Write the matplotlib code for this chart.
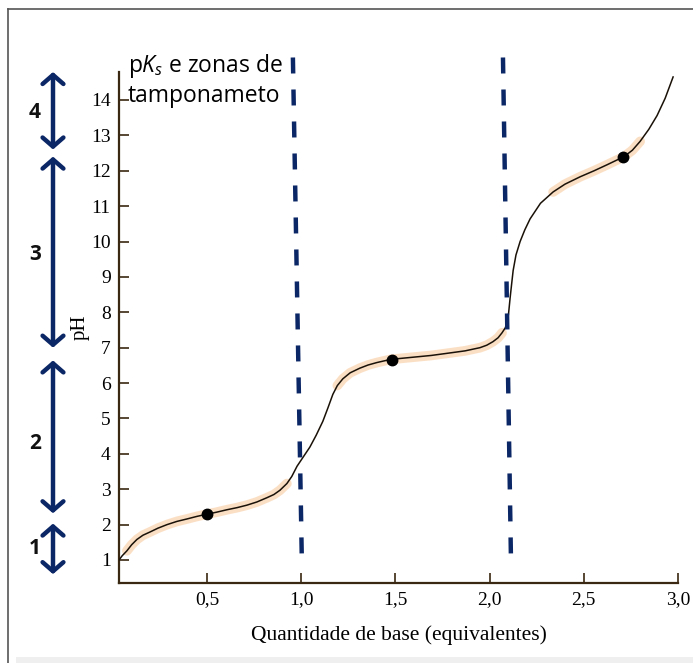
import matplotlib
matplotlib.use("Agg")
import matplotlib.pyplot as plt
import matplotlib.transforms as mtransforms
import numpy as np

# titration curve (x = equivalents of base, y = pH)
base_eq = [0.033, 0.05, 0.075, 0.10, 0.128, 0.16, 0.197, 0.24, 0.288, 0.34, 0.394,
           0.445, 0.495, 0.55, 0.606, 0.66, 0.712, 0.765, 0.818, 0.855, 0.887, 0.924,
           0.95, 0.978, 1.012, 1.046, 1.08, 1.115, 1.142, 1.168, 1.192, 1.221, 1.26,
           1.311, 1.355, 1.402, 1.476, 1.593, 1.69, 1.774, 1.87, 1.949, 1.985, 2.018,
           2.045, 2.066, 2.082, 2.093, 2.101, 2.109, 2.117, 2.125, 2.14, 2.162, 2.187,
           2.215, 2.27, 2.337, 2.40, 2.481, 2.555, 2.624, 2.714, 2.758, 2.799, 2.845,
           2.889, 2.932, 2.974]
ph = [1.0, 1.12, 1.26, 1.43, 1.58, 1.7, 1.79, 1.9, 2.0, 2.09, 2.16,
      2.23, 2.29, 2.35, 2.42, 2.48, 2.55, 2.64, 2.76, 2.85, 2.97, 3.16,
      3.36, 3.65, 3.92, 4.19, 4.53, 4.92, 5.3, 5.68, 5.93, 6.12, 6.29,
      6.42, 6.51, 6.58, 6.67, 6.73, 6.78, 6.84, 6.91, 7.0, 7.07, 7.17,
      7.28, 7.42, 7.55, 7.69, 7.98, 8.41, 8.8, 9.18, 9.62, 10.0, 10.33,
      10.64, 11.08, 11.4, 11.62, 11.83, 12.0, 12.17, 12.4, 12.58, 12.83, 13.17,
      13.56, 14.05, 14.65]

# pKa points (half-equivalence)
pk_x = [0.5, 1.48, 2.71]
pk_y = [2.3, 6.66, 12.4]

# buffer zones highlighted along the curve
buffer_ranges = [(0.06, 0.93), (1.17, 2.07), (2.33, 2.80)]

# equivalence lines (slightly slanted in the picture)
eq_x_top = [0.956, 2.071]
eq_x_bottom = [1.004, 2.114]
eq_y_top = 15.2
eq_y_bottom = 0.82

# zones on the left
zone_labels = ["1", "2", "3", "4"]
zone_bottom = [0.6, 2.32, 7.0, 12.6]
zone_top = [2.03, 6.64, 12.4, 14.79]
zone_label_y = [1.32, 4.3, 9.64, 13.65]

x_ticks = [0.5, 1.0, 1.5, 2.0, 2.5, 3.0]
x_ticklabels = ["0,5", "1,0", "1,5", "2,0", "2,5", "3,0"]
y_ticks = list(range(1, 15))

navy = "#0c2766"
axis_col = "#3a2812"

fig = plt.figure(figsize=(6.93, 6.63), dpi=100)
ax = fig.add_axes([119 / 693, 80 / 663, (678 - 119) / 693, (583 - 72) / 663])

# frame of the picture
fig.add_artist(plt.Line2D([8 / 693, 1.0], [1 - 9 / 663, 1 - 9 / 663], color="#555555", lw=1.2))
fig.add_artist(plt.Line2D([8 / 693, 8 / 693], [0, 1 - 9 / 663], color="#555555", lw=1.2))
fig.add_artist(plt.Rectangle((16 / 693, 0), 1, 6 / 663, color="#efefef", lw=0))

x = np.array(base_eq)
y = np.array(ph)

# orange glow in the buffer zones
for a, b in buffer_ranges:
    m = (x >= a) & (x <= b)
    ax.plot(x[m], y[m], color="#f3a55a", lw=7, alpha=0.35, solid_capstyle="round", zorder=2)

ax.plot(x, y, color="#1a1208", lw=1.1, zorder=3)
ax.plot(pk_x, pk_y, "o", color="black", ms=7.5, zorder=4)

for xt, xb in zip(eq_x_top, eq_x_bottom):
    ax.plot([xt, xb], [eq_y_top, eq_y_bottom], color=navy, lw=3.2,
            dashes=(3.6, 3.6), clip_on=False, zorder=5)

ax.set_xlim(0.033, 3.0)
ax.set_ylim(0.35, 14.79)
ax.set_xticks(x_ticks)
ax.set_xticklabels(x_ticklabels)
ax.set_yticks(y_ticks)

for s in ["top", "right"]:
    ax.spines[s].set_visible(False)
for s in ["left", "bottom"]:
    ax.spines[s].set_color(axis_col)
    ax.spines[s].set_linewidth(1.6)

ax.tick_params(direction="in", length=7, width=1.2, color=axis_col,
               labelsize=14, pad=6)
for lab in ax.get_xticklabels() + ax.get_yticklabels():
    lab.set_family("Liberation Serif")

ax.set_xlabel("Quantidade de base (equivalentes)", family="Liberation Serif",
              fontsize=15.5, labelpad=12)
ax.set_ylabel("pH", family="Liberation Serif", fontsize=15, labelpad=1)

plt.rcParams["mathtext.fontset"] = "custom"
plt.rcParams["mathtext.it"] = "Open Sans:italic"
plt.rcParams["mathtext.rm"] = "Open Sans"
fig.text(128 / 693, 1 - 52 / 663, "p$K_s$ e zonas de\ntamponameto", family="Open Sans",
         fontsize=16.5, va="top", ha="left", linespacing=1.2)

# zone arrows on the left
trans = mtransforms.blended_transform_factory(fig.transFigure, ax.transData)
for lab, lo, hi, ly in zip(zone_labels, zone_bottom, zone_top, zone_label_y):
    ax.annotate("", xy=(53 / 693, hi), xytext=(53 / 693, lo),
                xycoords=trans, textcoords=trans, annotation_clip=False,
                arrowprops=dict(arrowstyle="<->, head_length=0.65, head_width=0.75",
                                lw=3.2, color=navy, shrinkA=0, shrinkB=0))
    ax.text(35 / 693, ly, lab, transform=trans, ha="center", va="center",
            fontsize=15, fontweight="bold", family="Open Sans", color="#111111")

fig.savefig("out.png", dpi=100)
